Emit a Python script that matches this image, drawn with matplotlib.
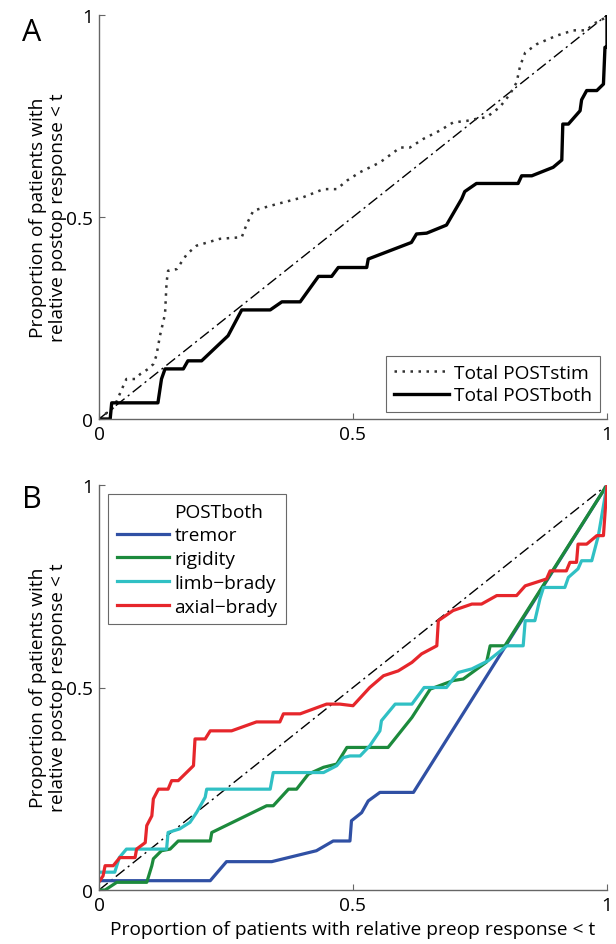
import matplotlib
matplotlib.use("Agg")
import matplotlib.pyplot as plt
from matplotlib.lines import Line2D

plt.rcParams['font.family'] = ['Open Sans', 'DejaVu Sans']

# ---------------- Panel A data ----------------
stim_x = [0.0, 0.03, 0.045, 0.054, 0.071, 0.081, 0.097, 0.107, 0.113, 0.12, 0.13, 0.133, 0.136,
          0.153, 0.173, 0.192, 0.238, 0.281, 0.291, 0.304, 0.35, 0.402, 0.442, 0.468, 0.488,
          0.514, 0.553, 0.593, 0.612, 0.638, 0.671, 0.697, 0.724, 0.743, 0.763, 0.789, 0.809,
          0.822, 0.829, 0.839, 0.862, 0.901, 0.934, 0.96, 0.973, 0.986, 0.999, 1.0]
stim_y = [0.0, 0.03, 0.074, 0.099, 0.099, 0.111, 0.124, 0.136, 0.157, 0.206, 0.26, 0.338, 0.367,
          0.371, 0.408, 0.429, 0.446, 0.45, 0.483, 0.516, 0.532, 0.549, 0.569, 0.569, 0.59,
          0.611, 0.635, 0.672, 0.672, 0.693, 0.714, 0.734, 0.738, 0.743, 0.747, 0.772, 0.804,
          0.833, 0.874, 0.907, 0.928, 0.949, 0.962, 0.962, 0.978, 0.986, 0.995, 1.0]

both_x = [0.0, 0.022, 0.025, 0.116, 0.123, 0.13, 0.166, 0.175, 0.202, 0.254, 0.281, 0.337, 0.36,
          0.396, 0.432, 0.458, 0.471, 0.527, 0.53, 0.615, 0.625, 0.645, 0.684, 0.714, 0.72, 0.743,
          0.825, 0.832, 0.852, 0.894, 0.911, 0.913, 0.924, 0.947, 0.95, 0.96, 0.98, 0.993, 0.996,
          1.0, 1.0]
both_y = [0.0, 0.0, 0.04, 0.04, 0.099, 0.124, 0.124, 0.144, 0.144, 0.206, 0.27, 0.27, 0.29,
          0.29, 0.353, 0.353, 0.375, 0.375, 0.396, 0.437, 0.458, 0.46, 0.48, 0.545, 0.563, 0.583,
          0.583, 0.602, 0.602, 0.623, 0.641, 0.73, 0.73, 0.763, 0.79, 0.813, 0.813, 0.829, 0.92,
          0.92, 1.0]

# ---------------- Panel B data ----------------
tremor_x = [0.0, 0.077, 0.219, 0.251, 0.34, 0.428, 0.461, 0.494, 0.497, 0.517, 0.53, 0.553,
            0.619, 1.0]
tremor_y = [0.023, 0.023, 0.023, 0.07, 0.07, 0.097, 0.121, 0.121, 0.171, 0.191, 0.22, 0.241,
            0.241, 1.0]

rigid_x = [0.0, 0.012, 0.035, 0.094, 0.104, 0.107, 0.123, 0.14, 0.156, 0.219, 0.222, 0.33,
           0.343, 0.373, 0.389, 0.412, 0.442, 0.468, 0.488, 0.494, 0.569, 0.616, 0.652, 0.697,
           0.717, 0.763, 0.77, 0.799, 1.0]
rigid_y = [0.0, 0.0, 0.019, 0.019, 0.06, 0.077, 0.097, 0.101, 0.121, 0.121, 0.142, 0.208,
           0.208, 0.249, 0.249, 0.286, 0.303, 0.311, 0.352, 0.352, 0.352, 0.426, 0.496, 0.517,
           0.521, 0.563, 0.603, 0.603, 1.0]

limb_x = [0.0, 0.031, 0.04, 0.054, 0.133, 0.136, 0.159, 0.179, 0.192, 0.209, 0.212, 0.337,
          0.343, 0.442, 0.468, 0.481, 0.494, 0.514, 0.533, 0.553, 0.556, 0.583, 0.616, 0.64,
          0.684, 0.707, 0.734, 0.766, 0.803, 0.835, 0.839, 0.858, 0.868, 0.875, 0.917, 0.924,
          0.943, 0.95, 0.97, 0.983, 1.0]
limb_y = [0.044, 0.044, 0.08, 0.101, 0.101, 0.142, 0.151, 0.167, 0.191, 0.229, 0.249, 0.249,
          0.29, 0.29, 0.307, 0.327, 0.331, 0.331, 0.356, 0.393, 0.418, 0.459, 0.459, 0.5,
          0.5, 0.537, 0.546, 0.566, 0.603, 0.603, 0.665, 0.665, 0.719, 0.747, 0.747, 0.772,
          0.793, 0.813, 0.813, 0.875, 1.0]

axial_x = [0.0, 0.008, 0.012, 0.028, 0.041, 0.071, 0.074, 0.091, 0.094, 0.104, 0.107, 0.117,
           0.136, 0.143, 0.156, 0.186, 0.189, 0.209, 0.219, 0.261, 0.31, 0.356, 0.363, 0.396,
           0.448, 0.474, 0.5, 0.533, 0.56, 0.589, 0.616, 0.635, 0.665, 0.668, 0.697, 0.734,
           0.753, 0.783, 0.822, 0.839, 0.881, 0.888, 0.92, 0.927, 0.94, 0.943, 0.96, 0.98,
           0.993, 1.0]
axial_y = [0.02, 0.035, 0.06, 0.06, 0.08, 0.08, 0.101, 0.117, 0.159, 0.183, 0.225, 0.249,
           0.249, 0.27, 0.27, 0.307, 0.373, 0.373, 0.393, 0.393, 0.415, 0.415, 0.435, 0.435,
           0.459, 0.459, 0.455, 0.5, 0.529, 0.541, 0.562, 0.583, 0.603, 0.665, 0.69, 0.706,
           0.706, 0.727, 0.727, 0.751, 0.768, 0.788, 0.788, 0.809, 0.809, 0.854, 0.854, 0.875,
           0.875, 1.0]

series_B = [("tremor", tremor_x, tremor_y, "#3050a4"),
            ("rigidity", rigid_x, rigid_y, "#1c8a3c"),
            ("limb\u2212brady", limb_x, limb_y, "#30c0c4"),
            ("axial\u2212brady", axial_x, axial_y, "#e6262b")]

ticks = [0, 0.5, 1]
tick_labels = ["0", "0.5", "1"]

FS = 13.8

fig = plt.figure(figsize=(6.16, 9.45), dpi=100)
axA = fig.add_axes([99/616, 1-420/945, 508/616, 404/945])
axB = fig.add_axes([99/616, 1-891/945, 508/616, 405/945])

def style(ax):
    ax.set_xlim(0, 1)
    ax.set_ylim(0, 1)
    for s in ("top", "right"):
        ax.spines[s].set_visible(False)
    for s in ("left", "bottom"):
        ax.spines[s].set_color("#666666")
        ax.spines[s].set_linewidth(1.0)
    ax.set_xticks(ticks)
    ax.set_xticklabels(tick_labels)
    ax.set_yticks(ticks)
    ax.set_yticklabels(tick_labels)
    ax.tick_params(direction="in", length=4, width=0.8, color="#666666",
                   labelsize=FS, pad=4)
    ax.patch.set_alpha(0)

style(axA)
style(axB)

# Panel A
axA.plot([0, 1], [0, 1], color="black", lw=1.0, ls=(0, (8, 3, 1.5, 3)))
axA.plot(stim_x, stim_y, color="#333333", lw=1.8, ls=(0, (1, 2.2)), label="Total POSTstim")
axA.plot(both_x, both_y, color="black", lw=2.4, label="Total POSTboth")
legA = axA.legend(loc="lower right", bbox_to_anchor=(0.986, 0.017), fontsize=FS,
                  frameon=True, fancybox=False, handlelength=2.9, handletextpad=0.25,
                  borderpad=0.4, labelspacing=0.25, borderaxespad=0.0)
legA.get_frame().set_edgecolor("#444444")
legA.get_frame().set_linewidth(0.8)

# Panel B
axB.plot([0, 1], [0, 1], color="black", lw=1.0, ls=(0, (8, 3, 1.5, 3)))
handles = [Line2D([], [], color="none", label="POSTboth")]
for name, xs, ys, col in series_B:
    h, = axB.plot(xs, ys, color=col, lw=2.3, label=name)
    handles.append(h)
legB = axB.legend(handles=handles, loc="upper left", bbox_to_anchor=(0.018, 0.978), fontsize=FS,
                  frameon=True, fancybox=False, handlelength=2.7, handletextpad=0.3,
                  borderpad=0.45, labelspacing=0.3, borderaxespad=0.0)
legB.get_frame().set_edgecolor("#444444")
legB.get_frame().set_linewidth(0.8)

ylab = "Proportion of patients with\nrelative postop response < t"
fig.text(48/616, 1-218/945, ylab, rotation=90, ha="center", va="center", fontsize=FS,
         linespacing=1.15)
fig.text(48/616, 1-688/945, ylab, rotation=90, ha="center", va="center", fontsize=FS,
         linespacing=1.15)
axB.set_xlabel("Proportion of patients with relative preop response < t", fontsize=FS,
               labelpad=5)

fig.text(32/616, 1-33/945, "A", fontsize=22, ha="center", va="center")
fig.text(32/616, 1-500/945, "B", fontsize=22, ha="center", va="center")

fig.savefig("out.png", dpi=100)
